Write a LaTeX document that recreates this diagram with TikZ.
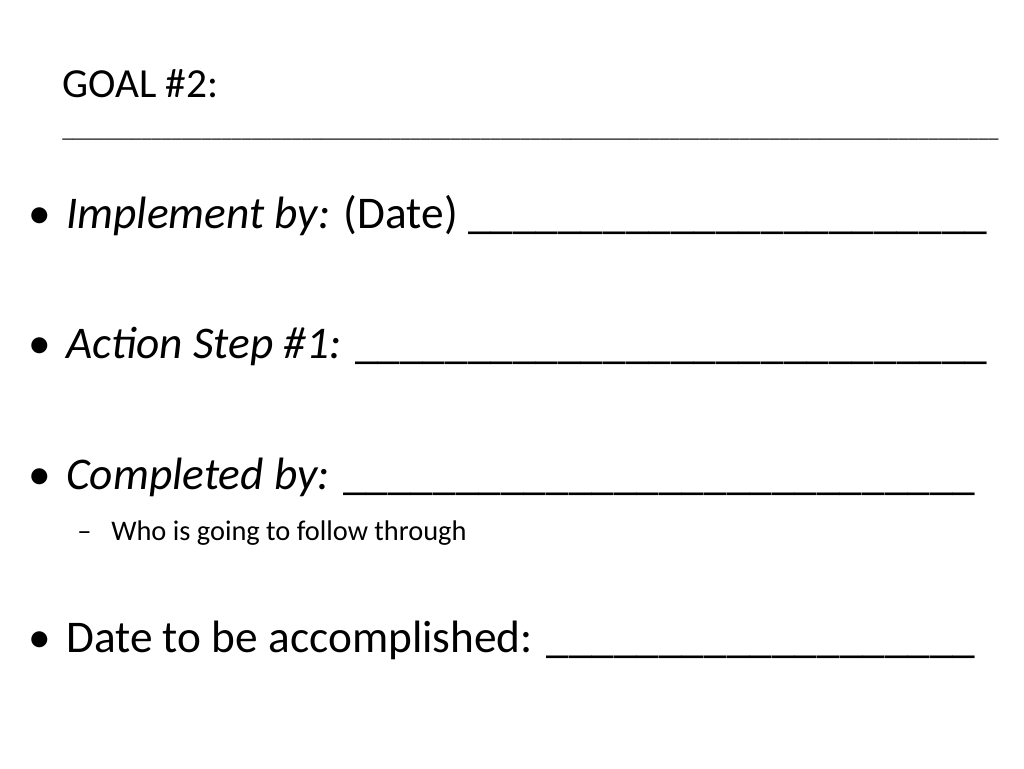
\documentclass[tikz,border=0pt]{standalone}
\usepackage{fontspec}
\setmainfont{Carlito}
\begin{document}
\begin{tikzpicture}[x=0.75pt,y=-0.75pt,
  txt/.style={anchor=base west,inner sep=0pt,font=\fontsize{34}{40}\selectfont},
  sub/.style={anchor=base west,inner sep=0pt,font=\fontsize{21.3}{26}\selectfont}]
\useasboundingbox[fill=white] (0,0) rectangle (1024,768);
\node[anchor=base west,inner sep=0pt,font=\fontsize{31}{36}\selectfont] (title) at (62,97) {GOAL \#2:};
\node[anchor=base west,inner sep=0pt,font=\fontsize{15}{18}\selectfont] (tline) at (62,137) {\_\_\_\_\_\_\_\_\_\_\_\_\_\_\_\_\_\_\_\_\_\_\_\_\_\_\_\_\_\_\_\_\_\_\_\_\_\_\_\_\_\_\_\_\_\_\_\_\_\_\_\_\_\_\_\_\_\_\_\_\_\_\_\_\_\_\_\_\_\_\_\_\_\_\_\_\_\_\_\_\_\_\_\_\_\_\_\_\_\_\_\_\_\_};
\node[txt] (b1) at (28,228) {•};
\node[txt] (l1) at (66,228) {\textit{Implement by:} (Date) \_\_\_\_\_\_\_\_\_\_\_\_\_\_\_\_\_\_\_\_\_\_\_};
\node[txt] (b2) at (28,358) {•};
\node[txt] (l2) at (66,358) {\textit{Action Step \#1:} \_\_\_\_\_\_\_\_\_\_\_\_\_\_\_\_\_\_\_\_\_\_\_\_\_\_\_\_};
\node[txt] (b3) at (28,489) {•};
\node[txt] (l3) at (66,489) {\textit{Completed by:} \_\_\_\_\_\_\_\_\_\_\_\_\_\_\_\_\_\_\_\_\_\_\_\_\_\_\_\_};
\node[sub] (d3) at (77,540) {–};
\node[sub] (s3) at (111,540) {Who is going to follow through};
\node[txt] (b4) at (28,652) {•};
\node[txt] (l4) at (66,652) {Date to be accomplished: \_\_\_\_\_\_\_\_\_\_\_\_\_\_\_\_\_\_\_};
\end{tikzpicture}
\end{document}
